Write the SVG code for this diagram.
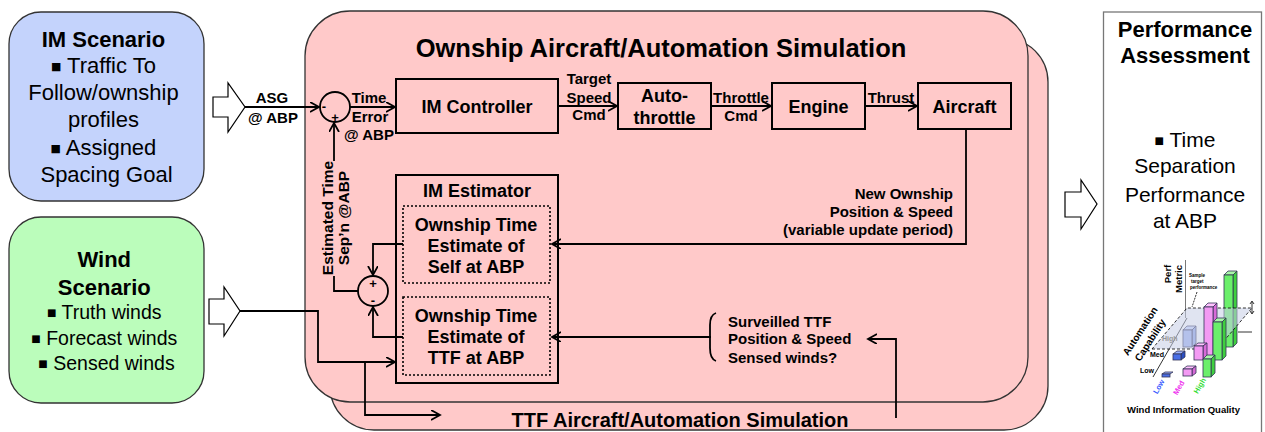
<svg xmlns="http://www.w3.org/2000/svg" width="1265" height="432" viewBox="0 0 1265 432">
<defs>
<marker id="arr" markerUnits="userSpaceOnUse" markerWidth="12" markerHeight="12" refX="9" refY="5" orient="auto">
<path d="M0,0 L9,5 L0,10" fill="none" stroke="#000" stroke-width="1.8"/>
</marker>
<style>
.t{font-family:"Liberation Sans",Arial,sans-serif;fill:#000}
.b{font-weight:bold}
.bu{font-family:"DejaVu Sans",sans-serif}
.box{fill:#ffc9c9;stroke:#000;stroke-width:2}
.dot{fill:none;stroke:#000;stroke-width:1.6;stroke-dasharray:2 2}
.ln{fill:none;stroke:#000;stroke-width:1.8}
.blk{fill:#fff;stroke:#000;stroke-width:1.2}
</style>
</defs>
<rect width="1265" height="432" fill="#fff"/>

<g id="ttf-sim">
<rect x="330" y="38" width="718" height="392" rx="44" fill="#ffc9c9" stroke="#333" stroke-width="1.3"/>
<text class="t b" x="680" y="427" font-size="20" text-anchor="middle">TTF Aircraft/Automation Simulation</text>
</g>
<g id="ownship-sim">
<rect x="305" y="11" width="723" height="391" rx="45" fill="#ffc9c9" stroke="#333" stroke-width="1.3"/>
<text class="t b" x="661" y="57" font-size="25.5" text-anchor="middle">Ownship Aircraft/Automation Simulation</text>
</g>

<g id="im-scenario">
<rect x="9" y="12" width="195" height="189" rx="32" fill="#c4d3fc" stroke="#333" stroke-width="1.3"/>
<text class="t" font-size="22" text-anchor="middle">
<tspan class="b" x="106.5" y="47">IM Scenario</tspan>
<tspan x="106.5" y="73"><tspan class="bu" font-size="11" dy="-3">■</tspan><tspan dy="3"> Traffic To</tspan></tspan>
<tspan x="106.5" y="100">Follow/ownship</tspan>
<tspan x="106.5" y="127">profiles</tspan>
<tspan x="106.5" y="155"><tspan class="bu" font-size="11" dy="-3">■</tspan><tspan dy="3"> Assigned</tspan></tspan>
<tspan x="106.5" y="182">Spacing Goal</tspan>
</text>
</g>
<g id="wind-scenario">
<rect x="9" y="217" width="195" height="186" rx="32" fill="#bbfdbb" stroke="#333" stroke-width="1.3"/>
<text class="t" text-anchor="middle">
<tspan class="b" font-size="22" x="106.5" y="267">Wind</tspan>
<tspan class="b" font-size="22" x="106.5" y="295">Scenario</tspan>
<tspan font-size="19.5" x="106.5" y="319"><tspan class="bu" font-size="10" dy="-3">■</tspan><tspan dy="3"> Truth winds</tspan></tspan>
<tspan font-size="19.5" x="106.5" y="345"><tspan class="bu" font-size="10" dy="-3">■</tspan><tspan dy="3"> Forecast winds</tspan></tspan>
<tspan font-size="19.5" x="106.5" y="370"><tspan class="bu" font-size="10" dy="-3">■</tspan><tspan dy="3"> Sensed winds</tspan></tspan>
</text>
</g>

<g id="block-arrows">
<polygon class="blk" points="213,97 228,97 228,83 245,107 228,132 228,117 213,117"/>
<polygon class="blk" points="209,299 224,299 224,287 240,311 224,336 224,324 209,324"/>
<polygon class="blk" points="1065,192 1081,192 1081,180 1097,204 1081,229 1081,217 1065,217"/>
</g>

<g id="sum1">
<circle cx="335" cy="107" r="15" fill="none" stroke="#000" stroke-width="1.8"/>
<text class="t b" x="324" y="111" font-size="13" text-anchor="middle">-</text>
<text class="t b" x="335" y="122" font-size="13" text-anchor="middle">+</text>
</g>
<g id="im-controller">
<rect class="box" x="396" y="79" width="162" height="54"/>
<text class="t b" x="477" y="113" font-size="18" text-anchor="middle">IM Controller</text>
</g>
<g id="autothrottle">
<rect class="box" x="618" y="83" width="93" height="46"/>
<text class="t b" font-size="18" text-anchor="middle"><tspan x="664.5" y="102">Auto-</tspan><tspan x="664.5" y="124">throttle</tspan></text>
</g>
<g id="engine">
<rect class="box" x="772" y="83" width="93" height="46"/>
<text class="t b" x="818.5" y="113" font-size="18" text-anchor="middle">Engine</text>
</g>
<g id="aircraft">
<rect class="box" x="918" y="83" width="93" height="46"/>
<text class="t b" x="964.5" y="113" font-size="18" text-anchor="middle">Aircraft</text>
</g>

<g id="im-estimator">
<rect class="box" x="396" y="175" width="162" height="208"/>
<text class="t b" x="477" y="197" font-size="18" text-anchor="middle">IM Estimator</text>
</g>
<g id="est-self">
<rect class="dot" x="403" y="206" width="147" height="77"/>
<text class="t b" font-size="18" text-anchor="middle"><tspan x="476" y="231">Ownship Time</tspan><tspan x="476" y="252">Estimate of</tspan><tspan x="476" y="273">Self at ABP</tspan></text>
</g>
<g id="est-ttf">
<rect class="dot" x="403" y="297" width="147" height="78"/>
<text class="t b" font-size="18" text-anchor="middle"><tspan x="476" y="322">Ownship Time</tspan><tspan x="476" y="343">Estimate of</tspan><tspan x="476" y="364">TTF at ABP</tspan></text>
</g>
<g id="sum2">
<circle cx="373" cy="291" r="15" fill="none" stroke="#000" stroke-width="1.8"/>
<text class="t b" x="373" y="288" font-size="13" text-anchor="middle">+</text>
<text class="t b" x="373" y="305" font-size="13" text-anchor="middle">-</text>
</g>

<g id="connectors">
<path class="ln" d="M245,107 H319" marker-end="url(#arr)"/>
<path class="ln" d="M350,107 H395" marker-end="url(#arr)"/>
<path class="ln" d="M558,106 H617" marker-end="url(#arr)"/>
<path class="ln" d="M711,106 H771" marker-end="url(#arr)"/>
<path class="ln" d="M865,106 H917" marker-end="url(#arr)"/>
<path class="ln" d="M966,129 V244 H552" marker-end="url(#arr)"/>
<path class="ln" d="M711,337 H552" marker-end="url(#arr)"/>
<path class="ln" d="M896,418 V339 H868" marker-end="url(#arr)"/>
<path class="ln" d="M240,311 H318 V362 H395" marker-end="url(#arr)"/>
<path class="ln" d="M365,362 V415 H440" marker-end="url(#arr)"/>
<path class="ln" d="M403,244 H373 V275" marker-end="url(#arr)"/>
<path class="ln" d="M403,337 H373 V307" marker-end="url(#arr)"/>
<path class="ln" d="M358,291 H334 V276"/>
<path class="ln" d="M334,161 V123" marker-end="url(#arr)"/>
<path class="ln" d="M716,313 Q710,315 710,325 V348 Q710,359 716,361" stroke-width="1.5"/>
</g>

<g id="labels">
<text class="t b" font-size="15" text-anchor="middle"><tspan x="272" y="103">ASG</tspan><tspan x="273" y="123">@ ABP</tspan></text>
<text class="t b" font-size="15" text-anchor="middle"><tspan x="369" y="103">Time</tspan><tspan x="370" y="122">Error</tspan><tspan x="369" y="140">@ ABP</tspan></text>
<text class="t b" font-size="15" text-anchor="middle"><tspan x="589" y="84">Target</tspan><tspan x="589" y="103">Speed</tspan><tspan x="589" y="120">Cmd</tspan></text>
<text class="t b" font-size="15" text-anchor="middle"><tspan x="741" y="103">Throttle</tspan><tspan x="741" y="121">Cmd</tspan></text>
<text class="t b" x="891" y="103" font-size="15" text-anchor="middle">Thrust</text>
<text class="t b" font-size="15" text-anchor="end"><tspan x="953" y="199">New Ownship</tspan><tspan x="953" y="217">Position &amp; Speed</tspan><tspan x="953" y="235">(variable update period)</tspan></text>
<text class="t b" font-size="15"><tspan x="728" y="327">Surveilled TTF</tspan><tspan x="728" y="344">Position &amp; Speed</tspan><tspan x="728" y="363">Sensed winds?</tspan></text>
<text class="t b" font-size="15.5" text-anchor="middle" transform="translate(333,218) rotate(-90)">Estimated Time</text>
<text class="t b" font-size="15.5" text-anchor="middle" transform="translate(349,218) rotate(-90)">Sep’n @ABP</text>
</g>

<g id="performance-assessment">
<rect x="1103.5" y="12" width="158" height="430" fill="#fff" stroke="#777" stroke-width="1.3"/>
<text class="t b" font-size="22" text-anchor="middle"><tspan x="1185" y="37">Performance</tspan><tspan x="1185" y="63">Assessment</tspan></text>
<text class="t" font-size="21" text-anchor="middle"><tspan x="1185" y="147"><tspan class="bu" font-size="10" dy="-3">■</tspan><tspan dy="3"> Time</tspan></tspan><tspan x="1185" y="173">Separation</tspan><tspan x="1185" y="202">Performance</tspan><tspan x="1185" y="228">at ABP</tspan></text>
</g>

<g id="chart" stroke-width="0.8">
<line x1="1185.5" y1="260" x2="1185.5" y2="318" stroke="#555"/>
<line x1="1153" y1="377" x2="1187" y2="318" stroke="#000"/>
<line x1="1238" y1="332" x2="1252" y2="332" stroke="#000"/>
<g stroke="#335">
<polygon points="1224,275 1228,271 1237,271 1233,275" fill="#a8f5a8"/>
<polygon points="1233,275 1237,271 1237,343 1233,347" fill="#3fcf3f"/>
<rect x="1224" y="275" width="9" height="72" fill="#6bef6b"/>
<polygon points="1183,330 1187,326 1196,326 1192,330" fill="#c8d4ff"/>
<polygon points="1192,330 1196,326 1196,343 1192,347" fill="#8ea4e8"/>
<rect x="1183" y="330" width="9" height="17" fill="#9db2f2"/>
</g>
<polygon points="1152,349 1217,349 1252,308 1187,308" fill="#c7cde6" fill-opacity="0.55" stroke="#000" stroke-dasharray="3 2"/>
<path d="M1252,302 V313 M1250,304 L1252,301 L1254,304 M1250,311 L1252,314 L1254,311" fill="none" stroke="#000"/>
<line x1="1197" y1="292" x2="1192" y2="307" stroke="#000" stroke-dasharray="2 1"/>
<g stroke="#335">
<polygon points="1204,307 1208,303 1217,303 1213,307" fill="#ffc2ff"/>
<polygon points="1213,307 1217,303 1217,356 1213,360" fill="#d86ad8"/>
<rect x="1204" y="307" width="9" height="53" fill="#f39af3"/>
<polygon points="1213,322 1217,318 1226,318 1222,322" fill="#a8f5a8"/>
<polygon points="1222,322 1226,318 1226,356 1222,360" fill="#3fcf3f"/>
<rect x="1213" y="322" width="9" height="38" fill="#6bef6b"/>
<polygon points="1173,354 1177,351 1185,351 1181,354" fill="#9fb5ff"/>
<polygon points="1181,354 1185,351 1185,357 1181,360" fill="#2a4fc4"/>
<rect x="1173" y="354" width="8" height="6" fill="#4a6fe6"/>
<polygon points="1194,346 1198,343 1207,343 1203,346" fill="#ffc2ff"/>
<polygon points="1203,346 1207,343 1207,357 1203,360" fill="#d86ad8"/>
<rect x="1194" y="346" width="9" height="14" fill="#f39af3"/>
<polygon points="1203,359 1207,355 1215,355 1211,359" fill="#a8f5a8"/>
<polygon points="1211,359 1215,355 1215,373 1211,377" fill="#3fcf3f"/>
<rect x="1203" y="359" width="8" height="18" fill="#6bef6b"/>
<polygon points="1183,369 1187,366 1196,366 1192,369" fill="#ffc2ff"/>
<polygon points="1192,369 1196,366 1196,373 1192,376" fill="#d86ad8"/>
<rect x="1183" y="369" width="9" height="7" fill="#f39af3"/>
<polygon points="1162,374 1165,372 1173,372 1170,374" fill="#9fb5ff"/>
<rect x="1162" y="374" width="8" height="3" fill="#4a6fe6"/>
</g>
<g class="t b">
<text font-size="9.5" text-anchor="middle" transform="translate(1171,274) rotate(-90)">Perf</text>
<text font-size="9.5" text-anchor="middle" transform="translate(1182,279) rotate(-90)">Metric</text>
<text font-size="4.5" x="1189" y="277">Sample</text>
<text font-size="4.5" x="1191" y="283">target</text>
<text font-size="4.5" x="1190" y="289">performance</text>
<text font-size="10" text-anchor="middle" transform="translate(1143,333) rotate(-57)">Automation</text>
<text font-size="10" text-anchor="middle" transform="translate(1153,342) rotate(-57)">Capability</text>
<text font-size="7" x="1162" y="341" fill="#999">High</text>
<text font-size="7" x="1150" y="357">Med</text>
<text font-size="7" x="1140" y="373">Low</text>
<text font-size="7.5" text-anchor="middle" fill="#3355ff" transform="translate(1161,388) rotate(-60)">Low</text>
<text font-size="7.5" text-anchor="middle" fill="#ee33ee" transform="translate(1181,389) rotate(-60)">Med</text>
<text font-size="7.5" text-anchor="middle" fill="#33dd33" transform="translate(1202,387) rotate(-60)">High</text>
<text font-size="9.5" x="1183.5" y="413" text-anchor="middle">Wind Information Quality</text>
</g>
</g>
</svg>
